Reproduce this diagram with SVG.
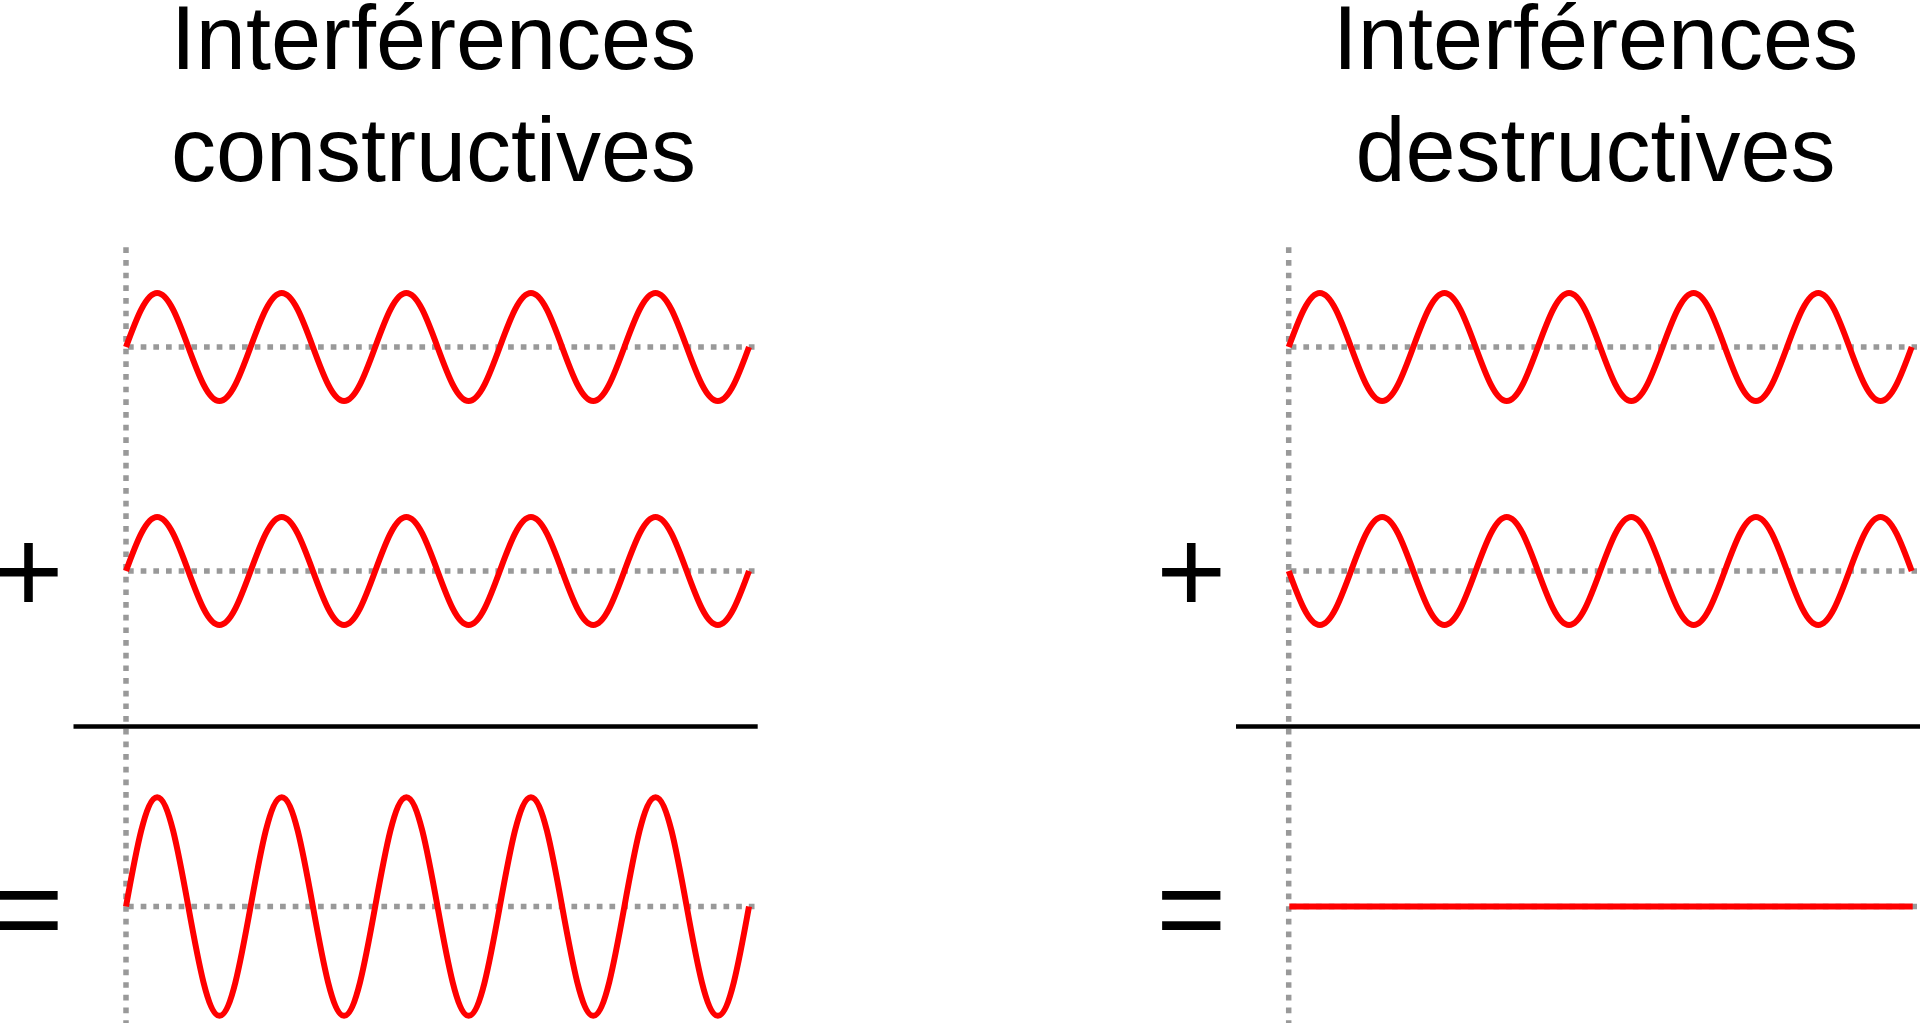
<svg xmlns="http://www.w3.org/2000/svg" xmlns:xlink="http://www.w3.org/1999/xlink" width="1920" height="1023" viewBox="0 0 1920 1023">
<style>
.title{font-family:"Liberation Sans",Arial,sans-serif;font-size:90px;fill:#000;text-anchor:middle}
.op{font-family:"Liberation Sans",Arial,sans-serif;font-size:120px;fill:#000}
.dot{stroke:#999;stroke-width:5.5;stroke-dasharray:5.7 6.97;fill:none}
.wave{stroke:#ff0000;stroke-width:6;fill:none}
.bar{stroke:#000;stroke-width:4.5}
</style>
<defs>
<path id="w" class="wave" d="M0,0 c10.159,-27.66 19.877,-54 31.15,-54 c11.273,0 20.991,26.34 31.15,54 c10.159,27.66 19.877,54 31.15,54 c11.273,0 20.991,-26.34 31.15,-54 c10.159,-27.66 19.877,-54 31.15,-54 c11.273,0 20.991,26.34 31.15,54 c10.159,27.66 19.877,54 31.15,54 c11.273,0 20.991,-26.34 31.15,-54 c10.159,-27.66 19.877,-54 31.15,-54 c11.273,0 20.991,26.34 31.15,54 c10.159,27.66 19.877,54 31.15,54 c11.273,0 20.991,-26.34 31.15,-54 c10.159,-27.66 19.877,-54 31.15,-54 c11.273,0 20.991,26.34 31.15,54 c10.159,27.66 19.877,54 31.15,54 c11.273,0 20.991,-26.34 31.15,-54 c10.159,-27.66 19.877,-54 31.15,-54 c11.273,0 20.991,26.34 31.15,54 c10.159,27.66 19.877,54 31.15,54 c11.273,0 20.991,-26.34 31.15,-54"/>
<path id="w2" class="wave" d="M0,0 c10.159,-56 19.877,-109.3 31.15,-109.3 c11.273,0 20.991,53.3 31.15,109.3 c10.159,56 19.877,109.3 31.15,109.3 c11.273,0 20.991,-53.3 31.15,-109.3 c10.159,-56 19.877,-109.3 31.15,-109.3 c11.273,0 20.991,53.3 31.15,109.3 c10.159,56 19.877,109.3 31.15,109.3 c11.273,0 20.991,-53.3 31.15,-109.3 c10.159,-56 19.877,-109.3 31.15,-109.3 c11.273,0 20.991,53.3 31.15,109.3 c10.159,56 19.877,109.3 31.15,109.3 c11.273,0 20.991,-53.3 31.15,-109.3 c10.159,-56 19.877,-109.3 31.15,-109.3 c11.273,0 20.991,53.3 31.15,109.3 c10.159,56 19.877,109.3 31.15,109.3 c11.273,0 20.991,-53.3 31.15,-109.3 c10.159,-56 19.877,-109.3 31.15,-109.3 c11.273,0 20.991,53.3 31.15,109.3 c10.159,56 19.877,109.3 31.15,109.3 c11.273,0 20.991,-53.3 31.15,-109.3"/>
</defs>
<rect width="1920" height="1023" fill="#fff"/>

<g id="constructive">
  <text class="title" x="433.5" y="69">Interférences</text>
  <text class="title" x="433.5" y="181">constructives</text>
  <g id="c-guides">
    <line class="dot" x1="126" y1="247.3" x2="126" y2="1023"/>
    <line class="dot" x1="128" y1="347" x2="755" y2="347"/>
    <line class="dot" x1="128" y1="571" x2="755" y2="571"/>
    <line class="dot" x1="128" y1="906.5" x2="755" y2="906.5"/>
  </g>
  <use xlink:href="#w" x="126" y="347"/>
  <text class="op" x="-6.5" y="613">+</text>
  <use xlink:href="#w" x="126" y="571"/>
  <line class="bar" x1="73.5" y1="726.5" x2="757.7" y2="726.5"/>
  <text class="op" x="-6.5" y="950">=</text>
  <use xlink:href="#w2" x="126" y="906.5"/>
</g>

<g id="destructive">
  <text class="title" x="1595.5" y="69">Interférences</text>
  <text class="title" x="1595.5" y="181">destructives</text>
  <g id="d-guides">
    <line class="dot" x1="1288.7" y1="247.3" x2="1288.7" y2="1023"/>
    <line class="dot" x1="1290.7" y1="347" x2="1917" y2="347"/>
    <line class="dot" x1="1290.7" y1="571" x2="1917" y2="571"/>
    <line class="dot" x1="1290.7" y1="906.5" x2="1917" y2="906.5"/>
  </g>
  <use xlink:href="#w" x="1288.7" y="347"/>
  <text class="op" x="1156.2" y="613">+</text>
  <use xlink:href="#w" transform="translate(1288.7,571) scale(1,-1)"/>
  <line class="bar" x1="1236" y1="726.5" x2="1920" y2="726.5"/>
  <text class="op" x="1156.2" y="950">=</text>
  <line class="wave" x1="1289.3" y1="906.5" x2="1912.7" y2="906.5"/>
</g>
</svg>
